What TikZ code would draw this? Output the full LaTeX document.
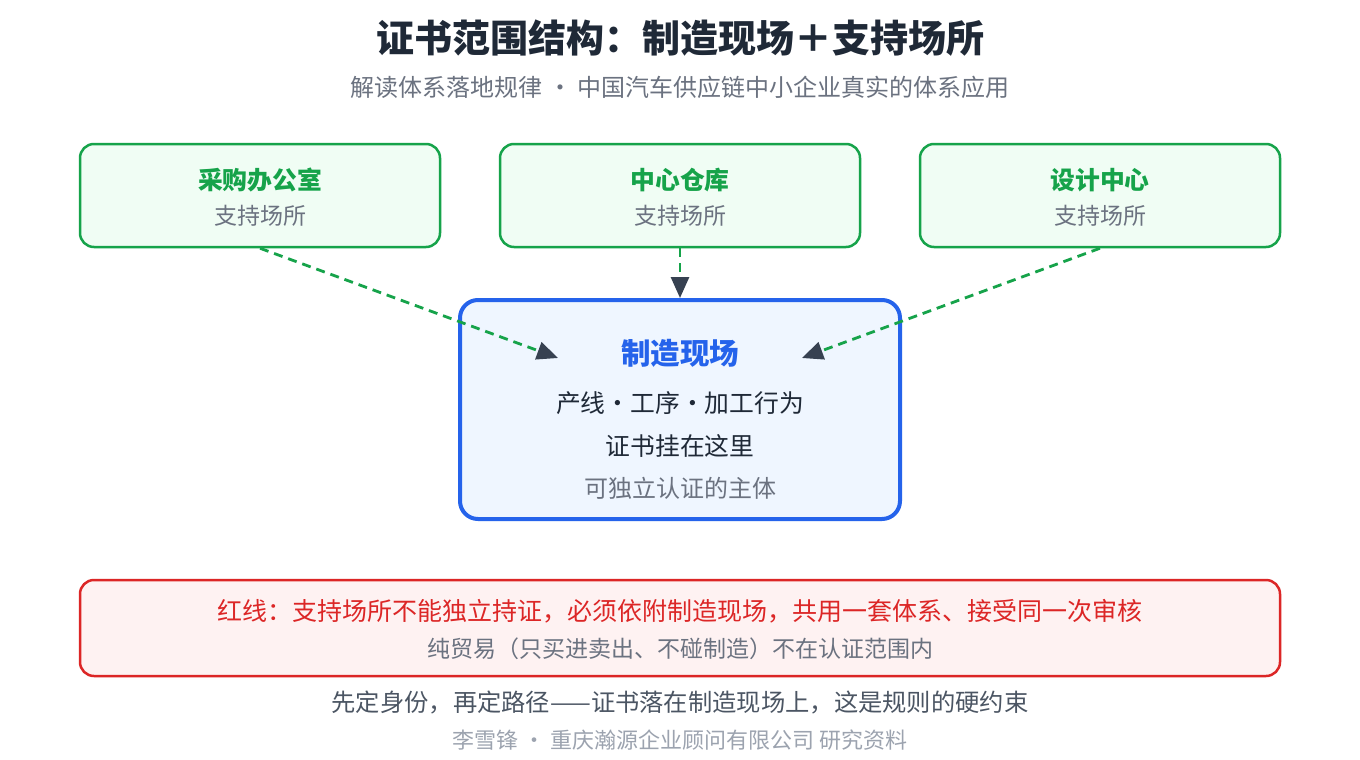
\documentclass[tikz,border=0pt]{standalone}
\usepackage{fontspec}
\setmainfont{Noto Sans CJK SC}
\usetikzlibrary{arrows.meta}
\definecolor{titlec}{HTML}{1F2937}
\definecolor{subc}{HTML}{6B7280}
\definecolor{gstroke}{HTML}{16A34A}
\definecolor{gfill}{HTML}{F0FDF4}
\definecolor{bstroke}{HTML}{2563EB}
\definecolor{bfill}{HTML}{EFF6FF}
\definecolor{rstroke}{HTML}{DC2626}
\definecolor{rfill}{HTML}{FEF2F2}
\definecolor{darkc}{HTML}{374151}
\definecolor{foot1}{HTML}{4B5563}
\definecolor{foot2}{HTML}{9CA3AF}
\newcommand{\fs}[1]{\fontsize{#1}{#1}\selectfont}
\begin{document}
\begin{tikzpicture}[x=1pt,y=-1pt,
  txt/.style={inner sep=0pt,anchor=center},
  gbox/.style={draw=gstroke,fill=gfill,line width=2.5pt,rounded corners=14pt,minimum width=360pt,minimum height=103pt,inner sep=0pt},
  bbox/.style={draw=bstroke,fill=bfill,line width=4pt,rounded corners=18pt,minimum width=440pt,minimum height=219pt,inner sep=0pt},
  rbox/.style={draw=rstroke,fill=rfill,line width=2.5pt,rounded corners=14pt,minimum width=1200pt,minimum height=96pt,inner sep=0pt},
  flow/.style={draw=gstroke,line width=2.8pt,dash pattern=on 9pt off 6pt,-{Triangle[length=21pt,width=18pt,fill=darkc,color=darkc]}},
  gtitle/.style={txt,text=gstroke,font=\fs{24.8}\bfseries},
  gsub/.style={txt,text=subc,font=\fs{23}}
]
\useasboundingbox (0,0) rectangle (1360,760);
\fill[white] (0,0) rectangle (1360,760);

\node[txt,text=titlec,font=\fs{38}\bfseries] (title) at (680,38) {证书范围结构：制造现场＋支持场所};
\node[txt,text=subc,font=\fs{24}] (subtitle) at (680,87) {解读体系落地规律 · 中国汽车供应链中小企业真实的体系应用};

\node[gbox] (g1) at (260,195.5) {};
\node[gbox] (g2) at (680,195.5) {};
\node[gbox] (g3) at (1100,195.5) {};
\node[gtitle] (g1t) at (260,180) {采购办公室};
\node[gsub] (g1s) at (260,216) {支持场所};
\node[gtitle] (g2t) at (680,180) {中心仓库};
\node[gsub] (g2s) at (680,216) {支持场所};
\node[gtitle] (g3t) at (1100,180) {设计中心};
\node[gsub] (g3s) at (1100,216) {支持场所};

\node[bbox] (m) at (680,409.5) {};
\node[txt,text=bstroke,font=\fs{29.5}\bfseries] (mt) at (680,353) {制造现场};
\node[txt,text=titlec,font=\fs{24.8}] (m1) at (680,403) {产线・工序・加工行为};
\node[txt,text=titlec,font=\fs{24.8}] (m2) at (680,446) {证书挂在这里};
\node[txt,text=subc,font=\fs{24}] (m3) at (680,488) {可独立认证的主体};

\coordinate (tl) at (558,358);
\coordinate (tr) at (802,358);
\draw[flow] (g1.south) -- (tl);
\draw[flow] (g2.south) -- (m.north);
\draw[flow] (g3.south) -- (tr);

\node[rbox] (r) at (680,628) {};
\node[txt,text=rstroke,font=\fs{25}] (r1) at (680,611) {红线：支持场所不能独立持证，必须依附制造现场，共用一套体系、接受同一次审核};
\node[txt,text=subc,font=\fs{23}] (r2) at (680,649) {纯贸易（只买进卖出、不碰制造）不在认证范围内};

\node[txt,text=foot1,font=\fs{24.3}] (f1) at (680,703) {先定身份，再定路径——证书落在制造现场上，这是规则的硬约束};
\node[txt,text=foot2,font=\fs{22}] (f2) at (680,740) {李雪锋 · 重庆瀚源企业顾问有限公司 研究资料};
\end{tikzpicture}
\end{document}
